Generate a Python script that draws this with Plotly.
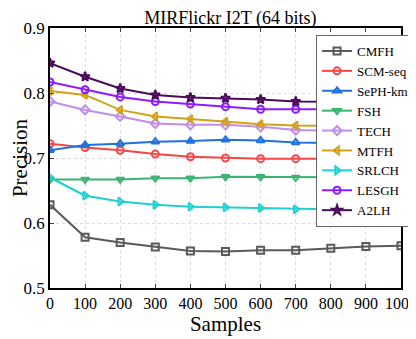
import plotly.graph_objects as go

samples = [0, 100, 200, 300, 400, 500, 600, 700, 800, 900, 1000]
cmfh = [0.628, 0.578, 0.570, 0.563, 0.557, 0.556, 0.558, 0.558, 0.561, 0.564, 0.565]
scm_seq = [0.722, 0.716, 0.712, 0.706, 0.702, 0.700, 0.699, 0.699, 0.699, 0.699, 0.699]
seph_km = [0.712, 0.720, 0.722, 0.725, 0.726, 0.728, 0.727, 0.724, 0.723, 0.723, 0.723]
fsh = [0.667, 0.667, 0.667, 0.669, 0.669, 0.671, 0.671, 0.670, 0.670, 0.670, 0.670]
tech = [0.787, 0.774, 0.764, 0.753, 0.751, 0.751, 0.748, 0.743, 0.742, 0.742, 0.742]
mtfh = [0.803, 0.797, 0.774, 0.764, 0.760, 0.756, 0.752, 0.750, 0.749, 0.749, 0.749]
srlch = [0.670, 0.642, 0.633, 0.628, 0.625, 0.624, 0.623, 0.621, 0.620, 0.620, 0.620]
lesgh = [0.817, 0.805, 0.794, 0.787, 0.783, 0.779, 0.775, 0.775, 0.775, 0.775, 0.775]
a2lh = [0.846, 0.825, 0.807, 0.797, 0.793, 0.792, 0.790, 0.787, 0.786, 0.786, 0.786]

series = [
    ("CMFH", cmfh, "#5a5a5a", "square-open"),
    ("SCM-seq", scm_seq, "#f24848", "circle-open"),
    ("SePH-km", seph_km, "#2070e0", "triangle-up-open"),
    ("FSH", fsh, "#3cb371", "triangle-down-open"),
    ("TECH", tech, "#c08ee8", "diamond-open"),
    ("MTFH", mtfh, "#d4a017", "triangle-left-open"),
    ("SRLCH", srlch, "#20d0d0", "triangle-right-open"),
    ("LESGH", lesgh, "#8b1aff", "circle-open"),
    ("A2LH", a2lh, "#4b0a5a", "star-open"),
]

fig = go.Figure()
for name, vals, color, sym in series:
    fig.add_trace(go.Scatter(
        x=samples, y=vals, name=name, mode="lines+markers",
        line=dict(color=color, width=2),
        marker=dict(symbol=sym, size=7, color=color, line=dict(width=2, color=color)),
    ))

font = "Liberation Serif"
fig.update_layout(
    width=408, height=331,
    margin=dict(l=42, r=15, t=20, b=51, autoexpand=False),
    paper_bgcolor="white", plot_bgcolor="white",
    font=dict(family=font, size=17, color="black"),
    title=dict(text="MIRFlickr I2T (64 bits)", x=0.545, xanchor="center", y=0.99, yanchor="top",
               pad=dict(t=0, b=0), font=dict(size=18, family=font)),
    showlegend=True,
    legend=dict(x=0.758, y=0.973, xanchor="left", yanchor="top",
                bgcolor="white", bordercolor="#666", borderwidth=1,
                font=dict(size=13, family=font), tracegroupgap=0,
                itemwidth=30),
)
fig.update_xaxes(range=[0, 1000], tickvals=samples, ticks="inside", ticklen=4,
                 showline=True, linecolor="black", linewidth=1.5, mirror="ticks",
                 showgrid=True, gridcolor="#dddddd", griddash="dot", zeroline=False,
                 automargin=False, ticklabeloverflow="allow",
                 title=dict(text="Samples", font=dict(size=21, family=font), standoff=2),
                 tickfont=dict(size=16, family=font))
fig.update_yaxes(range=[0.5, 0.9], tickvals=[0.5, 0.6, 0.7, 0.8, 0.9], ticks="inside", ticklen=4,
                 tickformat=".1f",
                 showline=True, linecolor="black", linewidth=1.5, mirror="ticks",
                 showgrid=True, gridcolor="#dddddd", griddash="dot", zeroline=False,
                 automargin=False, ticklabeloverflow="allow",
                 title=dict(text="Precision", font=dict(size=21, family=font), standoff=2),
                 tickfont=dict(size=17, family=font))

fig.write_html("out.html")
